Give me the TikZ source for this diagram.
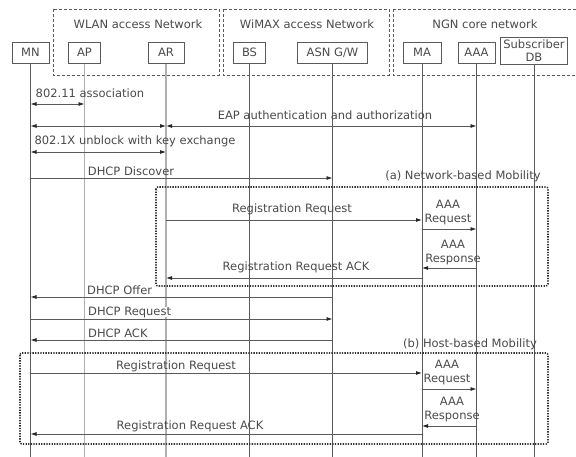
\documentclass[tikz,border=0pt]{standalone}
\usepackage{fontspec}
\setmainfont{DejaVu Sans}
\usetikzlibrary{arrows.meta}
\definecolor{txt}{HTML}{4A4A4A}
\definecolor{ln}{HTML}{5A5A5A}
\definecolor{lite}{HTML}{B0B0B0}
\tikzset{
  ent/.style={draw=ln, line width=0.7pt, minimum height=21pt, inner sep=1pt, text=txt, font=\fontsize{11.5}{12}\selectfont, fill=white},
  grp/.style={draw=ln, line width=0.7pt, dash pattern=on 3pt off 2pt},
  dotbox/.style={draw=black!80, line width=1.6pt, dash pattern=on 1.3pt off 1.3pt, rounded corners=2pt},
  life/.style={draw=ln, line width=0.8pt},
  lifelite/.style={draw=lite, line width=1.4pt},
  msg/.style={draw=ln, line width=0.8pt},
  tip/.style={-{Latex[length=6pt,width=4pt,color=black!85]}},
  tips/.style={{Latex[length=6pt,width=4pt,color=black!85]}-{Latex[length=6pt,width=4pt,color=black!85]}},
  lbl/.style={text=txt, font=\fontsize{11.5}{12}\selectfont, inner sep=0pt},
  lbl2/.style={text=txt, font=\fontsize{11.5}{14}\selectfont, inner sep=0pt, align=center},
}
\begin{document}
\begin{tikzpicture}[x=1pt,y=-1pt]
\useasboundingbox (0,0) rectangle (576,457);
\fill[white] (0,0) rectangle (576,457);
% groups
\draw[grp] (53,9) rectangle (219,75);
\draw[grp] (223,9) rectangle (389,75);
\draw[grp] (393,9) -- (584,9) (393,9) -- (393,75) -- (584,75);
\node[lbl] (gwlan) at (138,24) {WLAN access Network};
\node[lbl] (gwimax) at (307,24) {WiMAX access Network};
\node[lbl] (gngn) at (485,24) {NGN core network};
% entities
\node[ent, minimum width=37pt] (mn) at (30.5,52.5) {MN};
\node[ent, minimum width=32pt] (ap) at (84.5,52.5) {AP};
\node[ent, minimum width=36pt] (ar) at (166,52.5) {AR};
\node[ent, minimum width=32pt] (bs) at (249.5,52.5) {BS};
\node[ent, minimum width=70pt] (asn) at (332.5,52.5) {ASN G/W};
\node[ent, minimum width=38pt] (ma) at (422,52.5) {MA};
\node[ent, minimum width=37pt] (aaa) at (476.5,52.5) {AAA};
\node[ent, minimum width=67pt, minimum height=27pt, align=center, font=\fontsize{11.5}{12.5}\selectfont] (db) at (534,50.5) {Subscriber\\DB};
% lifelines
\coordinate (mnE) at (mn |- 0,457);
\coordinate (apE) at (ap |- 0,457);
\coordinate (arE) at (ar |- 0,457);
\coordinate (bsE) at (bs |- 0,457);
\coordinate (asnE) at (asn |- 0,457);
\coordinate (maE) at (ma |- 0,457);
\coordinate (aaaE) at (aaa |- 0,457);
\coordinate (dbE) at (db |- 0,457);
\draw[life] (mn) -- (mnE);
\draw[lifelite] (ap) -- (apE);
\draw[lifelite] (ar) -- (arE);
\draw[life] (bs) -- (bsE);
\draw[life] (asn) -- (asnE);
\draw[life] (ma) -- (maE);
\draw[life] (aaa) -- (aaaE);
\draw[life] (db) -- (dbE);
% redraw boxes on top
\node[ent, minimum width=37pt] at (mn) {MN};
\node[ent, minimum width=32pt] at (ap) {AP};
\node[ent, minimum width=36pt] at (ar) {AR};
\node[ent, minimum width=32pt] at (bs) {BS};
\node[ent, minimum width=70pt] at (asn) {ASN G/W};
\node[ent, minimum width=38pt] at (ma) {MA};
\node[ent, minimum width=37pt] at (aaa) {AAA};
\node[ent, minimum width=67pt, minimum height=27pt, align=center, font=\fontsize{11.5}{12.5}\selectfont] at (db) {Subscriber\\DB};
% dotted boxes
\draw[dotbox] (156,187) rectangle (548,286);
\draw[dotbox] (20,353) rectangle (548,444);
% messages
\node[lbl] (l1) at (90,93) {802.11 association};
\draw[msg,tips] (mn |- 0,104) -- (ap |- 0,104);
\node[lbl] (l2) at (325,115) {EAP authentication and authorization};
\draw[msg,tips] (mn |- 0,126) -- (ar |- 0,126);
\draw[msg,tips] (ar |- 0,126) -- (aaa |- 0,126);
\node[lbl] (l3) at (135,141) {802.1X unblock with key exchange};
\draw[msg,tips] (mn |- 0,152) -- (ar |- 0,152);
\node[lbl] (l4) at (131,171) {DHCP Discover};
\draw[msg,tip] (mn |- 0,178) -- (asn |- 0,178);
\node[lbl] (la) at (463,176) {(a) Network-based Mobility};
\node[lbl] (l5) at (292,209) {Registration Request};
\draw[msg,tip] (ar |- 0,220) -- (ma |- 0,220);
\node[lbl2] (l6) at (448,213) {AAA\\Request};
\draw[msg,tip] (ma |- 0,229) -- (aaa |- 0,229);
\node[lbl2] (l7) at (453,252.5) {AAA\\Response};
\draw[msg,tip] (aaa |- 0,268) -- (ma |- 0,268);
\node[lbl] (l8) at (296,267) {Registration Request ACK};
\draw[msg,tip] (ma |- 0,278) -- (ar |- 0,278);
\node[lbl, anchor=west, fill=white, inner xsep=1pt] (l9) at (86,290) {DHCP Offer};
\draw[msg,tip] (asn |- 0,297) -- (mn |- 0,297);
\node[lbl, anchor=west, fill=white, inner xsep=1pt] (l10) at (87,312) {DHCP Request};
\draw[msg,tip] (mn |- 0,319) -- (asn |- 0,319);
\node[lbl, anchor=west, fill=white, inner xsep=1pt] (l11) at (87,333) {DHCP ACK};
\draw[msg,tip] (asn |- 0,340) -- (mn |- 0,340);
\node[lbl] (lb) at (470,344) {(b) Host-based Mobility};
\node[lbl] (l12) at (176,366) {Registration Request};
\draw[msg,tip] (mn |- 0,373) -- (ma |- 0,373);
\node[lbl2] (l13) at (447,372.5) {AAA\\Request};
\draw[msg,tip] (ma |- 0,389) -- (aaa |- 0,389);
\node[lbl2] (l14) at (452,410) {AAA\\Response};
\draw[msg,tip] (aaa |- 0,426) -- (ma |- 0,426);
\node[lbl] (l15) at (190,426) {Registration Request ACK};
\draw[msg,tip] (ma |- 0,434) -- (mn |- 0,434);
\end{tikzpicture}
\end{document}
